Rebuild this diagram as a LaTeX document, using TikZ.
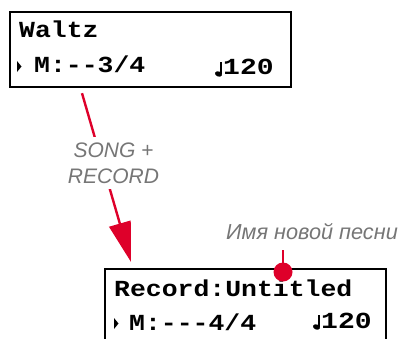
\documentclass[tikz,border=0pt]{standalone}
\usepackage{fontspec}
\usetikzlibrary{arrows.meta,calc}
\newfontfamily\lcdfont[FakeStretch=1.15]{Liberation Mono}
\newfontfamily\labfont{Liberation Sans}
\definecolor{pinred}{RGB}{222,0,42}
\definecolor{labgray}{RGB}{118,118,118}
\tikzset{
  lcdbox/.style={draw=black, line width=2.2pt, minimum width=281pt, minimum height=75pt, inner sep=0pt, anchor=north west},
  lcdtext/.style={inner sep=0pt, anchor=base west, font=\lcdfont\bfseries\fontsize{23}{23}\selectfont},
  lbltext/.style={text=labgray, font=\labfont\itshape\fontsize{21}{26}\selectfont, inner sep=0pt},
  redline/.style={draw=pinred, line width=2.4pt},
}
\newcommand{\cursortri}[2]{\fill (#1,#2) -- ++(4.5,5.5) -- ++(-4.5,5.5) -- cycle;}
\newcommand{\quarternote}[2]{%
  \fill[rotate around={-20:(#1-3,#2)}] (#1-3,#2) ellipse (3.6pt and 2.6pt);
  \draw[line width=1.8pt] (#1-0.2,#2) -- (#1-0.2,#2-12);}
\begin{document}
\begin{tikzpicture}[x=1pt,y=-1pt]
\useasboundingbox (0,0) rectangle (398,338);
\clip (0,0) rectangle (398,338);
% box 1
\node[lcdbox] (box1) at (9,11) {};
\node[lcdtext] (w1) at (19,37) {Waltz};
\cursortri{17}{61}
\node[lcdtext] (m1) at (34,72) {M:--3/4};
\quarternote{221.5}{74}
\node[lcdtext, xscale=1.06] (t1) at (223,74.5) {120};
% box 2
\node[lcdbox] (box2) at (104,268) {};
\node[lcdtext] (w2) at (114,296) {Record:Untitled};
\cursortri{114}{318}
\node[lcdtext] (m2) at (129,330) {M:---4/4};
\quarternote{319.5}{327}
\node[lcdtext, xscale=1.06] (t2) at (321,328) {120};
% arrow
\coordinate (as) at ($(box1.south west)+(73,5)$);
\coordinate (ae) at ($(box2.north west)+(27,-6)$);
\draw[redline, -{Triangle[length=40pt,width=22pt]}] (as) -- (ae);
\node[lbltext, fill=white, align=center, inner xsep=2pt, inner ysep=6pt] (song) at (113.5,163) {SONG +\\RECORD};
% pin
\node[circle, fill=pinred, minimum size=19pt, inner sep=0pt] (pin) at (283,272) {};
\coordinate (pintop) at (283,250);
\draw[redline] (pintop) -- (pin.center);
\node[lbltext, anchor=base, font=\labfont\itshape\fontsize{21.7}{26}\selectfont] (name) at (312,239) {Имя новой песни};
\end{tikzpicture}
\end{document}
